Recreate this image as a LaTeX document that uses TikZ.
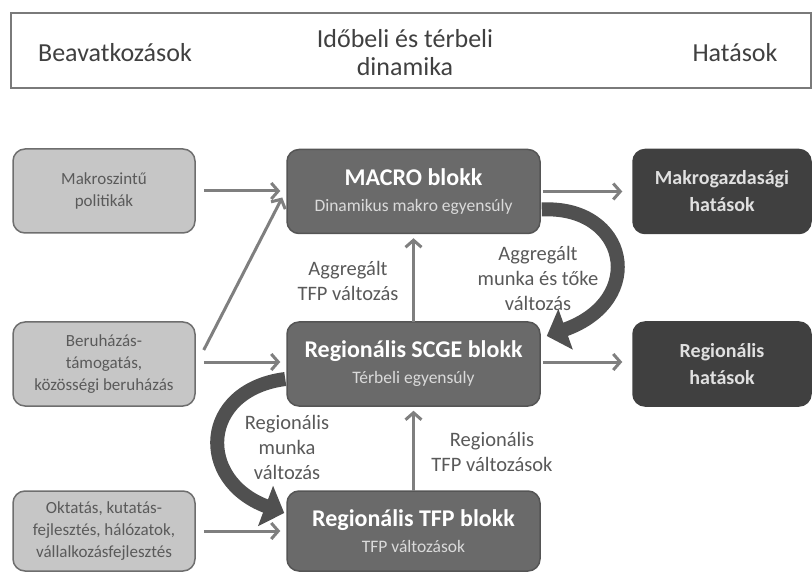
\documentclass[tikz,border=0pt]{standalone}
\usepackage{fontspec}
\setmainfont{Carlito}
\usetikzlibrary{arrows.meta}
\definecolor{lightfill}{HTML}{C6C6C6}
\definecolor{lightdraw}{HTML}{6E6E6E}
\definecolor{lighttext}{HTML}{5A5A5A}
\definecolor{midfill}{HTML}{6A6A6A}
\definecolor{middraw}{HTML}{555555}
\definecolor{subtext}{HTML}{DADADA}
\definecolor{darkfill}{HTML}{404040}
\definecolor{arrowgray}{HTML}{7F7F7F}
\definecolor{bendgray}{HTML}{505050}
\definecolor{labeltext}{HTML}{595959}
\definecolor{hdrdraw}{HTML}{7A7A7A}
\definecolor{hdrtext}{HTML}{404040}
\newcommand\myttlfont{\bfseries\fontsize{24}{26}\selectfont}
\tikzset{
  inbox/.style={draw=lightdraw, fill=lightfill, rounded corners=12pt, line width=1.5pt,
    minimum width=182pt, minimum height=84pt, text=lighttext, align=center,
    font=\fontsize{17}{22}\selectfont, inner sep=0pt},
  midbox/.style={draw=middraw, fill=midfill, rounded corners=12pt, line width=1.5pt,
    minimum width=253pt, minimum height=84pt, text=white, align=center, inner sep=0pt,
    font=\fontsize{17.5}{26}\selectfont},
  outbox/.style={draw=darkfill, fill=darkfill, rounded corners=12pt, line width=1.5pt,
    minimum width=178pt, minimum height=84pt, text=white!88!black, align=center,
    font=\bfseries\fontsize{20}{27}\selectfont, inner sep=0pt},
  flow/.style={draw=arrowgray, line width=3pt, -{Straight Barb[length=7pt,width=16pt]}},
  bendarrow/.style={draw=bendgray, line width=14pt, -{Triangle[length=20pt,width=42pt]}},
  lbl/.style={text=labeltext, align=center, font=\fontsize{20.5}{25}\selectfont, inner sep=0pt},
  hdr/.style={text=hdrtext, align=center, font=\fontsize{26}{28}\selectfont, inner sep=0pt}
}
\begin{document}
\begin{tikzpicture}[x=1pt,y=-1pt]
\useasboundingbox (0,0) rectangle (812,572);
% header
\node (header) [draw=hdrdraw, line width=2pt, minimum width=800pt, minimum height=75pt, inner sep=0pt] at (411,50.5) {};
\node (h1) [hdr] at (115,53) {Beavatkozások};
\node (h2) [hdr] at (405,53) {Időbeli és térbeli\\dinamika};
\node (h3) [hdr] at (735,53) {Hatások};
% left boxes
\node (pol) [inbox] at (104,191) {Makroszintű\\politikák};
\node (ber) [inbox] at (104,364) {Beruházás-\\támogatás,\\közösségi beruházás};
\node (okt) [inbox, minimum height=80pt] at (104,531) {Oktatás, kutatás-\\fejlesztés, hálózatok,\\vállalkozásfejlesztés};
% middle boxes
\node (macro) [midbox] at (413.5,191.5) {{\myttlfont MACRO blokk}\\{\color{subtext}Dinamikus makro egyensúly}};
\node (scge) [midbox] at (413.5,364) {{\myttlfont Regionális SCGE blokk}\\{\color{subtext}Térbeli egyensúly}};
\node (tfp) [midbox, minimum height=80pt] at (413.5,531) {{\myttlfont Regionális TFP blokk}\\{\color{subtext}TFP változások}};
% right boxes
\node (mh) [outbox] at (722,191.5) {Makrogazdasági\\hatások};
\node (rh) [outbox] at (722,364) {Regionális\\hatások};
% straight arrows
\draw[flow] ([xshift=8pt]pol.east) -- ([xshift=-6pt]macro.west |- pol.east);
\draw[flow] ([xshift=8pt,yshift=14pt]ber.east) -- ([xshift=-4pt,yshift=-6pt]macro.west);
\draw[flow] ([xshift=8pt,yshift=2pt]ber.east) -- ([xshift=-6pt,yshift=2pt]scge.west);
\draw[flow] ([xshift=8pt]okt.east) -- ([xshift=-6pt]tfp.west);
\draw[flow] ([xshift=2pt]macro.east) -- ([xshift=-10pt]mh.west);
\draw[flow] ([xshift=2pt,yshift=2pt]scge.east) -- ([xshift=-10pt,yshift=2pt]rh.west);
\draw[flow] ([yshift=-1pt]scge.north) -- ([yshift=-4pt]macro.south);
\draw[flow] ([yshift=-1pt]tfp.north) -- ([yshift=-4pt]scge.south);
% curved block arrows
\draw[bendarrow] ([xshift=1pt,yshift=-18pt]macro.east) .. controls (628,205) and (648,300) .. ([xshift=6pt,yshift=28pt]scge.east);
\draw[bendarrow] ([xshift=-1pt,yshift=-15pt]scge.west) .. controls (200,390) and (196,480) .. ([xshift=-2pt,yshift=18pt]tfp.west);
% labels
\node (l1) [lbl] at (348,281) {Aggregált\\TFP változás};
\node (l2) [lbl] at (538,278) {Aggregált\\munka és tőke\\változás};
\node (l3) [lbl] at (287,447) {Regionális\\munka\\változás};
\node (l4) [lbl] at (492,452) {Regionális\\TFP változások};
\end{tikzpicture}
\end{document}
